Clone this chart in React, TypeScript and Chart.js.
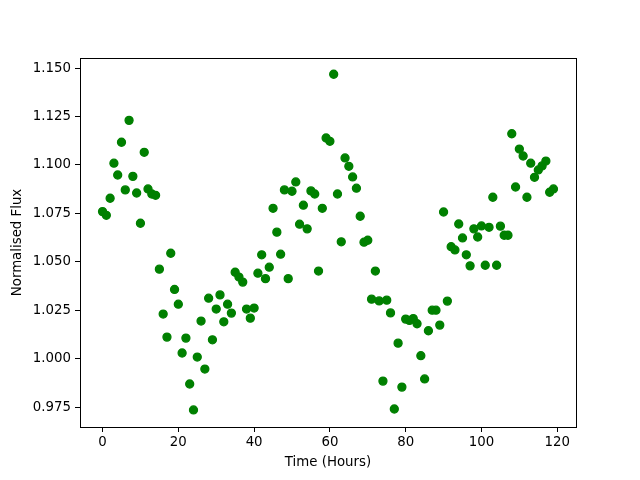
import React, { useEffect, useRef } from "react";
import { Chart, registerables } from "chart.js";

Chart.register(...registerables);

const hours: number[] = [
  0, 1, 2, 3, 4, 5, 6, 7, 8, 9, 10, 11, 12, 13, 14, 15, 16, 17, 18, 19,
  20, 21, 22, 23, 24, 25, 26, 27, 28, 29, 30, 31, 32, 33, 34, 35, 36, 37, 38, 39,
  40, 41, 42, 43, 44, 45, 46, 47, 48, 49, 50, 51, 52, 53, 54, 55, 56, 57, 58, 59,
  60, 61, 62, 63, 64, 65, 66, 67, 68, 69, 70, 71, 72, 73, 74, 75, 76, 77, 78, 79,
  80, 81, 82, 83, 84, 85, 86, 87, 88, 89, 90, 91, 92, 93, 94, 95, 96, 97, 98, 99,
  100, 101, 102, 103, 104, 105, 106, 107, 108, 109, 110, 111, 112, 113, 114, 115, 116, 117, 118, 119,
];

const flux: number[] = [
  1.0759, 1.0740, 1.0828, 1.1009, 1.0948, 1.1117, 1.0871, 1.1230, 1.0941, 1.0855,
  1.0699, 1.1065, 1.0876, 1.0850, 1.0843, 1.0462, 1.0230, 1.0111, 1.0544, 1.0357,
  1.0281, 1.0029, 1.0106, 0.9869, 0.9735, 1.0008, 1.0194, 0.9946, 1.0312, 1.0097,
  1.0256, 1.0329, 1.0190, 1.0281, 1.0235, 1.0446, 1.0421, 1.0395, 1.0256, 1.0209,
  1.0261, 1.0441, 1.0536, 1.0413, 1.0472, 1.0776, 1.0653, 1.0539, 1.0871, 1.0413,
  1.0864, 1.0912, 1.0694, 1.0792, 1.0670, 1.0866, 1.0850, 1.0452, 1.0776, 1.1139,
  1.1122, 1.1468, 1.0850, 1.0603, 1.1036, 1.0993, 1.0938, 1.0880, 1.0735, 1.0601,
  1.0611, 1.0307, 1.0452, 1.0298, 0.9884, 1.0302, 1.0236, 0.9740, 1.0080, 0.9853,
  1.0204, 1.0197, 1.0207, 1.0180, 1.0015, 0.9895, 1.0144, 1.0250, 1.0250, 1.0173,
  1.0757, 1.0297, 1.0578, 1.0561, 1.0695, 1.0623, 1.0536, 1.0479, 1.0670, 1.0628,
  1.0685, 1.0482, 1.0678, 1.0833, 1.0482, 1.0684, 1.0637, 1.0637, 1.1161, 1.0886,
  1.1082, 1.1046, 1.0833, 1.1009, 1.0936, 1.0974, 1.0995, 1.1020, 1.0859, 1.0876,
];

const xTicks: number[] = [0, 20, 40, 60, 80, 100, 120];
const yTicks: number[] = [0.975, 1.0, 1.025, 1.05, 1.075, 1.1, 1.125, 1.15];

const xTitle = "Time (Hours)";
const yTitle = "Normalised Flux";

const FONT = { family: "'DejaVu Sans', sans-serif", size: 13.33 };

const frame = {
  id: "frame",
  afterDatasetsDraw(chart: any) {
    const { ctx, chartArea } = chart;
    ctx.save();
    ctx.strokeStyle = "#000";
    ctx.lineWidth = 1;
    ctx.strokeRect(
      Math.round(chartArea.left) + 0.5,
      Math.round(chartArea.top) + 0.5,
      Math.round(chartArea.right - chartArea.left),
      Math.round(chartArea.bottom - chartArea.top)
    );
    ctx.restore();
  },
};

export default function App() {
  const ref = useRef<HTMLCanvasElement>(null);

  useEffect(() => {
    document.body.style.margin = "0";
    const ctx = ref.current!;
    const chart = new Chart(ctx, {
      type: "scatter",
      data: {
        datasets: [
          {
            data: hours.map((h, i) => ({ x: h, y: flux[i] })),
            backgroundColor: "#008000",
            borderColor: "#008000",
            pointRadius: 4,
            pointBorderWidth: 1.3,
            pointHoverRadius: 4,
          },
        ],
      },
      options: {
        responsive: false,
        animation: false,
        devicePixelRatio: 1,
        layout: { padding: { left: 0, top: 58, right: 64, bottom: 0 } },
        plugins: { legend: { display: false }, tooltip: { enabled: false } },
        scales: {
          x: {
            type: "linear",
            min: -5.95,
            max: 124.95,
            afterFit: (s: any) => {
              s.height = 53;
            },
            afterBuildTicks: (s: any) => {
              s.ticks = xTicks.map((v) => ({ value: v }));
            },
            grid: { drawOnChartArea: false, drawTicks: true, tickLength: 5, tickColor: "#000" },
            border: { display: true, color: "#000" },
            ticks: { color: "#000", font: FONT, padding: 3, maxRotation: 0, autoSkip: false },
            title: { display: true, text: xTitle, color: "#000", font: FONT, padding: { top: 2, bottom: 9 } },
          },
          y: {
            type: "linear",
            min: 0.9647,
            max: 1.1552,
            afterFit: (s: any) => {
              s.width = 80;
            },
            afterBuildTicks: (s: any) => {
              s.ticks = yTicks.map((v) => ({ value: v }));
            },
            grid: { drawOnChartArea: false, drawTicks: true, tickLength: 5, tickColor: "#000" },
            border: { display: true, color: "#000" },
            ticks: {
              color: "#000",
              font: FONT,
              padding: 4,
              autoSkip: false,
              callback: (v: any) => Number(v).toFixed(3),
            },
            title: { display: true, text: yTitle, color: "#000", font: FONT, padding: { top: 10, bottom: 0 } },
          },
        },
      },
      plugins: [frame],
    });
    return () => chart.destroy();
  }, []);

  return (
    <div style={{ position: "absolute", left: 0, top: 0, width: 640, height: 480, background: "#fff" }}>
      <canvas ref={ref} width={640} height={480} style={{ width: 640, height: 480 }} />
    </div>
  );
}
